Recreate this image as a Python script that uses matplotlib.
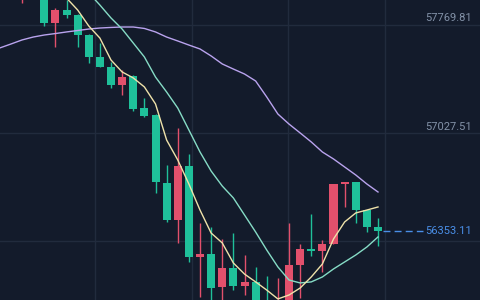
import matplotlib
matplotlib.use("Agg")
import matplotlib.pyplot as plt
import numpy as np

# ---- data (candles, oldest first; Asian convention: red = up, green = down) ----
opens = [58060, 58030, 57990, 58040, 57990, 57784, 57873, 57839, 57701, 57550,
         57481, 57357, 57419, 57199, 57151, 56684, 56430, 56801, 56175, 56196,
         55969, 56100, 55976, 56004, 55860, 55800, 55860, 56120, 56230, 56217,
         56265, 56677, 56691, 56498, 56381]
closes = [58030, 58070, 58040, 57990, 57784, 57873, 57839, 57701, 57550, 57481,
          57357, 57412, 57192, 57144, 56691, 56430, 56801, 56175, 56196, 55962,
          56100, 55976, 56004, 55840, 55790, 55860, 56120, 56230, 56217, 56265,
          56677, 56691, 56498, 56381, 56353.11]
highs = [58090, 58100, 58060, 58070, 58010, 57885, 57945, 57845, 57705, 57646,
         57516, 57461, 57425, 57268, 57155, 56808, 57062, 56883, 56409, 56381,
         56299, 56340, 56189, 56107, 56045, 56031, 56409, 56265, 56471, 56292,
         56680, 56693, 56693, 56500, 56443]
lows = [58000, 57990, 57921, 57960, 57763, 57619, 57818, 57619, 57509, 57478,
        57337, 57289, 57179, 57140, 56615, 56416, 56272, 56141, 55900, 55860,
        55850, 55948, 55914, 55800, 55760, 55780, 55830, 55893, 56182, 56072,
        56262, 56519, 56409, 56347, 56251]

ma_fast = [58130, 58125, 58120, 58100, 58080, 58040, 57955, 57873, 57763, 57680,
           57529, 57447, 57406, 57344, 57227, 56979, 56842, 56677, 56498, 56340,
           56272, 56134, 56058, 56004, 55948, 55887, 55914, 55962, 56038, 56127,
           56299, 56416, 56478, 56498, 56519]
ma_mid = [58300, 58290, 58280, 58270, 58250, 58220, 58160, 58075, 57990, 57907,
          57818, 57742, 57646, 57550, 57412, 57309, 57199, 57048, 56897, 56766,
          56663, 56581, 56464, 56347, 56223, 56107, 56017, 55997, 56004, 56038,
          56093, 56141, 56189, 56244, 56313]
ma_slow = [57612, 57639, 57667, 57687, 57701, 57711, 57722, 57732, 57742, 57749,
           57753, 57756, 57756, 57746, 57722, 57687, 57660, 57632, 57605, 57557,
           57502, 57467, 57433, 57385, 57275, 57158, 57089, 57028, 56966, 56897,
           56849, 56794, 56739, 56677, 56622]

price_ticks = [57769.81, 57027.51, 56285.21]
tick_labels = ["57769.81", "57027.51"]
last_price = 56353.11
last_label = "56353.11"

# ---- style ----
BG = "#131b2b"
GRID = "#212b3d"
UP = "#e2506c"
DOWN = "#1fc09a"
TXT = "#8392a8"
BLUE = "#4a8fe8"

fig = plt.figure(figsize=(4.8, 3.0), dpi=100)
fig.patch.set_facecolor(BG)
ax = fig.add_axes([0, 0, 1, 1])
ax.set_facecolor(BG)
for s in ax.spines.values():
    s.set_visible(False)
ax.set_xticks([])
ax.set_yticks([])

x = np.arange(len(opens))
ax.set_xlim(0.02, 43.17)
ax.set_ylim(55879.7, 57941.6)

# grid
for p in price_ticks:
    ax.axhline(p, color=GRID, lw=1.0, zorder=0)
for gx in [8.56, 17.28, 25.91, 34.63]:
    ax.axvline(gx, color=GRID, lw=1.0, zorder=0)

# candles
w = 0.72
for i in x:
    o, c, h, l = opens[i], closes[i], highs[i], lows[i]
    col = UP if c >= o else DOWN
    ax.vlines(i, l, h, color=col, lw=1.0, zorder=2)
    bot = min(o, c)
    hgt = max(abs(c - o), 8)
    ax.add_patch(plt.Rectangle((i - w / 2, bot), w, hgt, facecolor=col,
                               edgecolor='none', zorder=3))

# moving averages
ax.plot(x, ma_slow, color="#b9a3ee", lw=1.0, zorder=4)
ax.plot(x, ma_mid, color="#86dcc6", lw=1.0, zorder=4)
ax.plot(x, ma_fast, color="#efe2aa", lw=1.0, zorder=4)

# price labels
font = dict(family="Roboto", fontsize=8)
ax.text(0.984, 0.94, tick_labels[0], transform=ax.transAxes, ha='right',
        va='center', color=TXT, **font)
ax.text(0.984, 0.577, tick_labels[1], transform=ax.transAxes, ha='right',
        va='center', color=TXT, **font)

# last price dashed line + label
trans = matplotlib.transforms.blended_transform_factory(ax.transAxes, ax.transData)
ax.plot([0.798, 0.881], [last_price, last_price], transform=trans, color=BLUE,
        lw=1.0, dashes=(5, 3), zorder=5)
ax.text(0.984, last_price, last_label, transform=trans, ha='right', va='center',
        color=BLUE, **font)

fig.savefig("out.png", dpi=100, facecolor=BG)
